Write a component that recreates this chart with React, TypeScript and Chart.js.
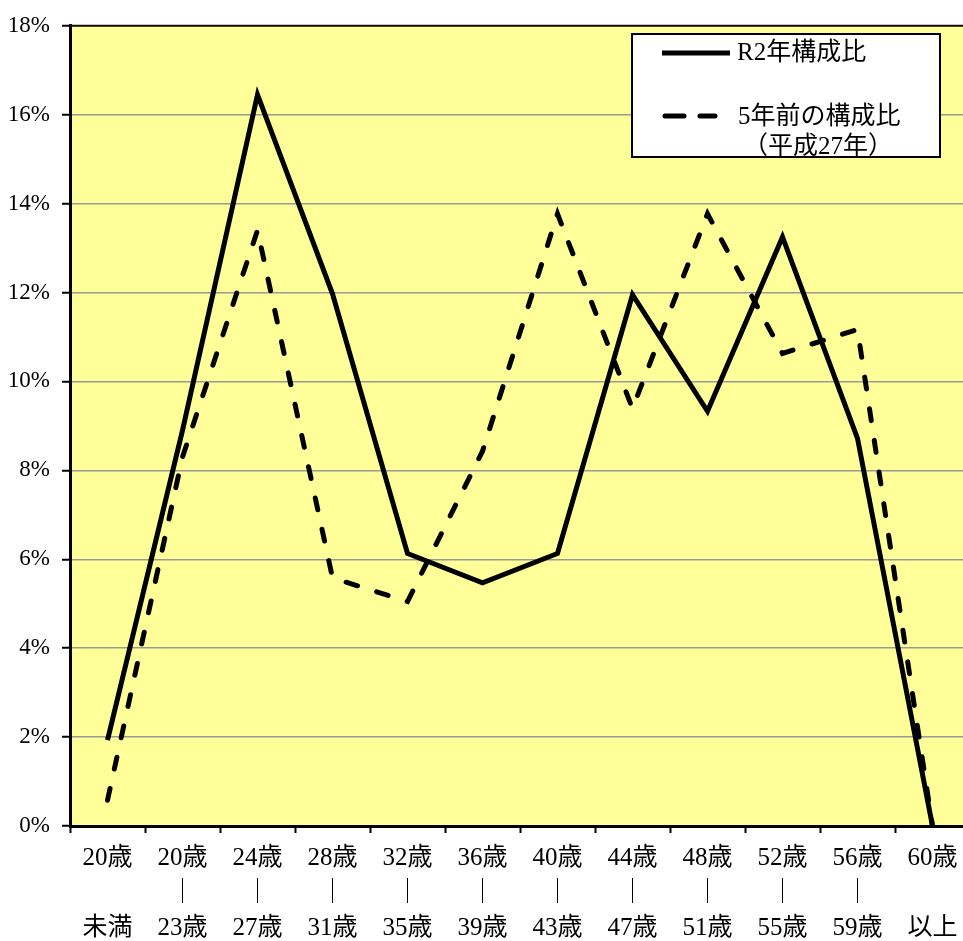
import React, { useEffect, useRef } from "react";
import { Chart, registerables } from "chart.js";

Chart.register(...registerables);

const categories: string[][] = [
  ["20歳", "", "未満"],
  ["20歳", "｜", "23歳"],
  ["24歳", "｜", "27歳"],
  ["28歳", "｜", "31歳"],
  ["32歳", "｜", "35歳"],
  ["36歳", "｜", "39歳"],
  ["40歳", "｜", "43歳"],
  ["44歳", "｜", "47歳"],
  ["48歳", "｜", "51歳"],
  ["52歳", "｜", "55歳"],
  ["56歳", "｜", "59歳"],
  ["60歳", "", "以上"],
];

const r2Values: number[] = [1.93, 8.9, 16.45, 11.97, 6.13, 5.47, 6.13, 11.95, 9.33, 13.25, 8.72, 0];
const prevValues: number[] = [0.58, 8.3, 13.4, 5.58, 5.05, 8.43, 13.77, 9.39, 13.77, 10.63, 11.17, 0];

const seriesNames: string[] = ["R2年構成比", "5年前の構成比", "（平成27年）"];
const yTickMax = 18;
const yTickStep = 2;

const FONT = "'Liberation Serif', 'Noto Sans CJK JP', serif";

const plotPlugin = {
  id: "plotDecor",
  beforeDraw(chart: any) {
    const { ctx, chartArea } = chart;
    ctx.save();
    ctx.fillStyle = "#FFFF99";
    ctx.fillRect(chartArea.left, chartArea.top, chartArea.right - chartArea.left, chartArea.bottom - chartArea.top);
    ctx.restore();
  },
  afterDraw(chart: any) {
    const { ctx, chartArea } = chart;
    ctx.save();
    // top border of plot area
    ctx.strokeStyle = "#111";
    ctx.lineWidth = 2;
    ctx.beginPath();
    ctx.moveTo(chartArea.left, chartArea.top);
    ctx.lineTo(chartArea.right, chartArea.top);
    ctx.stroke();

    // legend box
    ctx.fillStyle = "#ffffff";
    ctx.fillRect(632, 34, 308, 123);
    ctx.strokeStyle = "#000";
    ctx.lineWidth = 2;
    ctx.strokeRect(632, 34, 308, 123);

    ctx.lineWidth = 5;
    ctx.lineCap = "butt";
    ctx.beginPath();
    ctx.moveTo(662, 53);
    ctx.lineTo(730, 53);
    ctx.stroke();

    ctx.lineCap = "round";
    ctx.beginPath();
    ctx.moveTo(665, 116);
    ctx.lineTo(684, 116);
    ctx.moveTo(700, 116);
    ctx.lineTo(715, 116);
    ctx.stroke();

    ctx.fillStyle = "#000";
    ctx.font = `25px ${FONT}`;
    ctx.textBaseline = "middle";
    ctx.textAlign = "left";
    ctx.fillText(seriesNames[0], 737, 53);
    ctx.fillText(seriesNames[1], 738, 117);
    ctx.textAlign = "center";
    ctx.fillText(seriesNames[2], 818, 147);
    ctx.restore();
  },
};

export default function App() {
  const canvasRef = useRef<HTMLCanvasElement | null>(null);

  useEffect(() => {
    if (!canvasRef.current) return;
    const chart = new Chart(canvasRef.current, {
      type: "line",
      data: {
        labels: categories,
        datasets: [
          {
            label: seriesNames[0],
            data: r2Values,
            borderColor: "#000",
            borderWidth: 5,
            pointRadius: 0,
            tension: 0,
            borderJoinStyle: "miter",
            fill: false,
          },
          {
            label: seriesNames[1],
            data: prevValues,
            borderColor: "#000",
            borderWidth: 5,
            borderDash: [12, 20],
            borderCapStyle: "round",
            pointRadius: 0,
            tension: 0,
            fill: false,
          },
        ],
      },
      options: {
        responsive: false,
        animation: false,
        layout: { padding: { top: 23, right: 10, left: 0, bottom: 0 } },
        plugins: {
          legend: { display: false },
          tooltip: { enabled: false },
        },
        scales: {
          x: {
            type: "category",
            offset: true,
            grid: {
              offset: true,
              drawOnChartArea: false,
              drawTicks: true,
              tickLength: 7,
              tickColor: "#000",
              tickWidth: 2,
            },
            border: { display: true, color: "#000", width: 3 },
            ticks: {
              color: "#000",
              padding: 7.5,
              maxRotation: 0,
              autoSkip: false,
              font: { family: FONT, size: 25, lineHeight: "35px" },
            },
            afterFit(scale: any) {
              scale.height = 115;
            },
          },
          y: {
            min: 0,
            max: yTickMax,
            ticks: {
              stepSize: yTickStep,
              color: "#000",
              padding: 12,
              font: { family: FONT, size: 23 },
              callback: (v: any) => `${v}%`,
            },
            grid: {
              color: "#999999",
              lineWidth: 1.5,
              tickLength: 8,
              tickColor: "#000",
              tickWidth: 2,
            },
            border: { display: true, color: "#000", width: 3 },
            afterFit(scale: any) {
              scale.width = 70;
            },
          },
        },
      },
      plugins: [plotPlugin],
    });
    return () => chart.destroy();
  }, []);

  return (
    <div
      style={{
        position: "fixed",
        left: 0,
        top: 0,
        width: 963,
        height: 941,
        overflow: "hidden",
        background: "#fff",
      }}
    >
      <canvas ref={canvasRef} width={980} height={941} style={{ display: "block", width: 980, height: 941 }} />
    </div>
  );
}
